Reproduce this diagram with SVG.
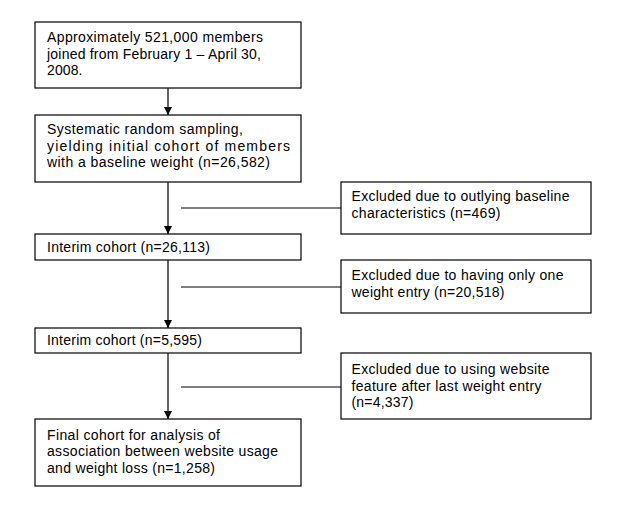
<svg xmlns="http://www.w3.org/2000/svg" width="627" height="512" viewBox="0 0 627 512">
<defs>
<style>
.box{fill:#fff;stroke:#000;stroke-width:1.2}
.t{font-family:"Liberation Sans",Arial,sans-serif;font-size:14px;fill:#000}
.v{stroke:#333;stroke-width:1.5;fill:none}
.h{stroke:#555;stroke-width:1.5;fill:none}
</style>
<marker id="ah" markerWidth="8" markerHeight="8" viewBox="0 0 8 8" refX="8" refY="4" orient="auto" markerUnits="userSpaceOnUse">
<path d="M0,0 L8,4 L0,8 Z" fill="#000"/>
</marker>
</defs>
<rect width="627" height="512" fill="#fff"/>
<g id="connectors">
<line class="v" x1="168" y1="88" x2="168" y2="115" marker-end="url(#ah)"/>
<line class="v" x1="168" y1="182" x2="168" y2="234" marker-end="url(#ah)"/>
<line class="v" x1="168" y1="260" x2="168" y2="328" marker-end="url(#ah)"/>
<line class="v" x1="168" y1="353" x2="168" y2="419" marker-end="url(#ah)"/>
<line class="h" x1="181" y1="208" x2="341" y2="208"/>
<line class="h" x1="181" y1="287" x2="341" y2="287"/>
<line class="h" x1="181" y1="387" x2="341" y2="387"/>
</g>
<g id="n1">
<rect class="box" x="35" y="22" width="266" height="66"/>
<text class="t" x="47" y="42" textLength="216" lengthAdjust="spacing">Approximately 521,000 members</text>
<text class="t" x="47" y="59" textLength="214" lengthAdjust="spacing">joined from February 1 – April 30,</text>
<text class="t" x="47" y="75" textLength="35.5" lengthAdjust="spacing">2008.</text>
</g>
<g id="n2">
<rect class="box" x="35" y="115" width="266" height="67"/>
<text class="t" x="47" y="134" textLength="196" lengthAdjust="spacing">Systematic random sampling,</text>
<text class="t" x="47" y="151" textLength="243" lengthAdjust="spacing">yielding initial cohort of members</text>
<text class="t" x="47" y="167" textLength="223" lengthAdjust="spacing">with a baseline weight (n=26,582)</text>
</g>
<g id="n3">
<rect class="box" x="35" y="234" width="266" height="26"/>
<text class="t" x="47" y="252" textLength="163" lengthAdjust="spacing">Interim cohort (n=26,113)</text>
</g>
<g id="n4">
<rect class="box" x="35" y="328" width="266" height="25"/>
<text class="t" x="47" y="345" textLength="155" lengthAdjust="spacing">Interim cohort (n=5,595)</text>
</g>
<g id="n5">
<rect class="box" x="35" y="419" width="266" height="67"/>
<text class="t" x="47" y="440" textLength="173" lengthAdjust="spacing">Final cohort for analysis of</text>
<text class="t" x="47" y="456" textLength="231" lengthAdjust="spacing">association between website usage</text>
<text class="t" x="47" y="473" textLength="168" lengthAdjust="spacing">and weight loss (n=1,258)</text>
</g>
<g id="e1">
<rect class="box" x="341" y="182" width="250" height="52"/>
<text class="t" x="351.5" y="201" textLength="218" lengthAdjust="spacing">Excluded due to outlying baseline</text>
<text class="t" x="351.5" y="218" textLength="149" lengthAdjust="spacing">characteristics (n=469)</text>
</g>
<g id="e2">
<rect class="box" x="341" y="260" width="250" height="53"/>
<text class="t" x="351.5" y="280" textLength="212" lengthAdjust="spacing">Excluded due to having only one</text>
<text class="t" x="351.5" y="297" textLength="153" lengthAdjust="spacing">weight entry (n=20,518)</text>
</g>
<g id="e3">
<rect class="box" x="341" y="353" width="250" height="66"/>
<text class="t" x="351.5" y="374" textLength="198" lengthAdjust="spacing">Excluded due to using website</text>
<text class="t" x="351.5" y="390.5" textLength="190" lengthAdjust="spacing">feature after last weight entry</text>
<text class="t" x="351.5" y="407" textLength="62" lengthAdjust="spacing">(n=4,337)</text>
</g>
</svg>
